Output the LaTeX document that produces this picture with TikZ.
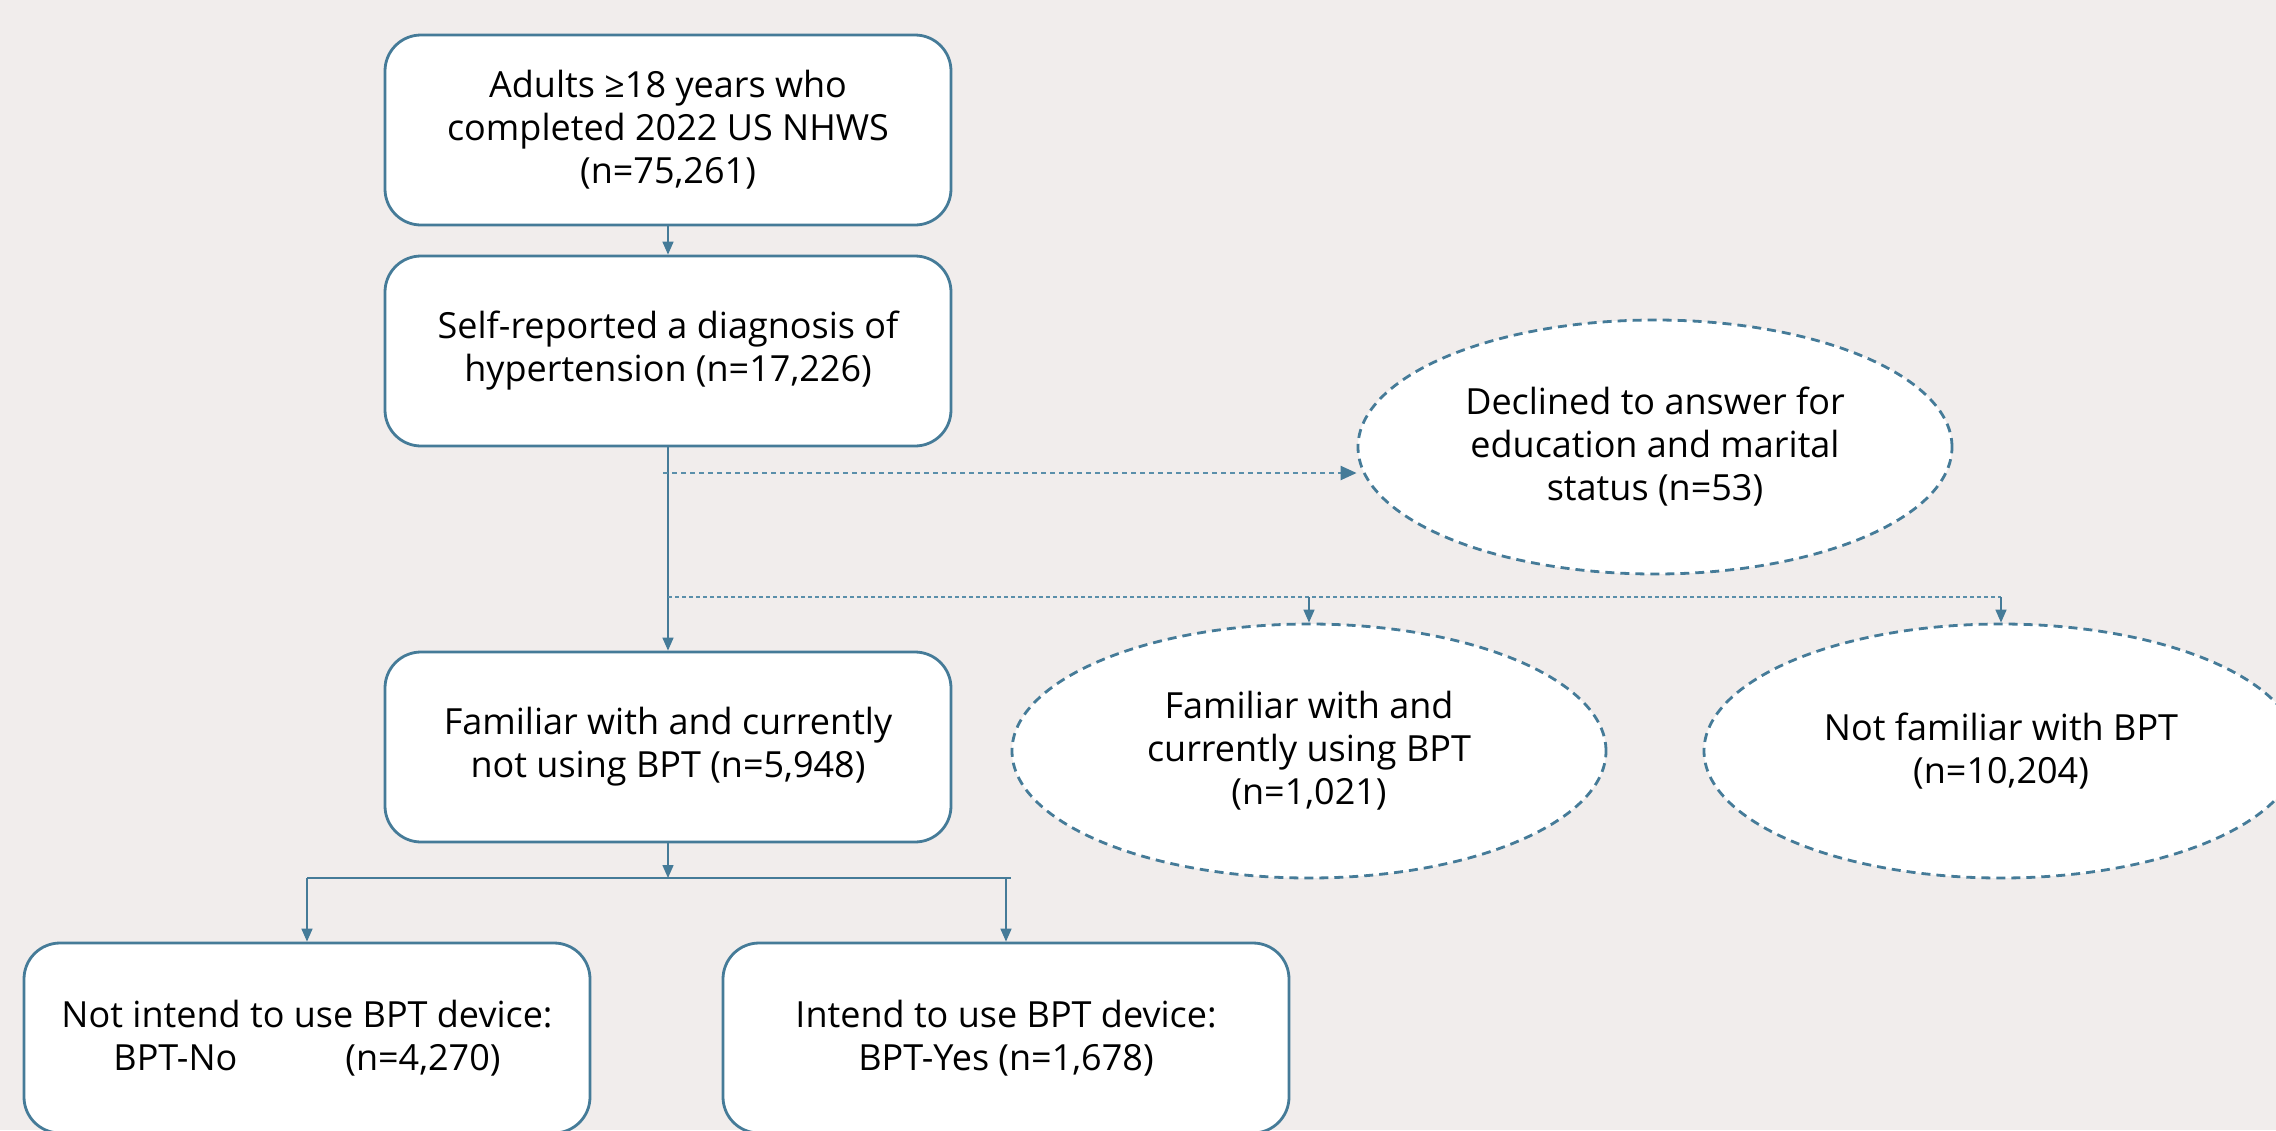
\documentclass[tikz,border=0pt]{standalone}
\usepackage{fontspec}
\setmainfont{Open Sans}
\usetikzlibrary{shapes.geometric,arrows.meta}
\definecolor{bgc}{HTML}{F1EDEC}
\definecolor{lnc}{HTML}{457B98}
\definecolor{lnl}{HTML}{5A8FAA}
\tikzset{
  box/.style={draw=lnc,line width=2.8pt,fill=white,rounded corners=36pt,
    minimum width=566pt,minimum height=190pt,align=center,inner sep=0pt,
    font=\fontsize{36}{43}\selectfont},
  oval/.style={ellipse,draw=lnc,line width=2.8pt,dash pattern=on 9pt off 6pt,fill=white,
    minimum width=594pt,minimum height=254pt,align=center,inner sep=0pt,
    font=\fontsize{36}{43}\selectfont},
  conn/.style={draw=lnc,line width=1.5pt},
  arr/.style={conn,-{Triangle[length=13pt,width=11pt]}},
  dconn/.style={draw=lnl,line width=1.5pt,dash pattern=on 4pt off 3pt},
  darr/.style={draw=lnl,line width=2.2pt,dash pattern=on 5pt off 4pt,
    -{Triangle[length=16pt,width=14pt,color=lnc,fill=lnc]}},
}
\begin{document}
\begin{tikzpicture}[x=1pt,y=-1pt]
\fill[bgc] (0,0) rectangle (2276,1130);
\useasboundingbox (0,0) rectangle (2276,1130);
\node[box] (b1) at (668,130) {Adults ≥18 years who\\completed 2022 US NHWS\\(n=75,261)};
\node[box] (b2) at (668,351) {Self-reported a diagnosis of\\hypertension (n=17,226)};
\node[box] (b3) at (668,747) {Familiar with and currently\\not using BPT (n=5,948)};
\node[box] (b4) at (307,1038) {Not intend to use BPT device:\\BPT-No\hspace{108pt}(n=4,270)};
\node[box] (b5) at (1006,1038) {Intend to use BPT device:\\BPT-Yes (n=1,678)};
\node[oval] (e1) at (1655,447) {Declined to answer for\\education and marital\\status (n=53)};
\node[oval] (e2) at (1309,751) {Familiar with and\\currently using BPT\\(n=1,021)};
\node[oval] (e3) at (2001,751) {Not familiar with BPT\\(n=10,204)};
\coordinate (d1) at (663,473);
\coordinate (d2s) at (668,597);
\coordinate (d2a) at (1309,597);
\coordinate (d2b) at (2001,597);
\coordinate (sp) at (668,878);
\coordinate (spl) at (307,878);
\coordinate (spr) at (1011,878);
\coordinate (spr2) at (1006,878);
\draw[arr] (b1.south) -- (b2.north);
\draw[arr] (b2.south) -- (b3.north);
\draw[darr] (d1) -- (d1 -| e1.west);
\draw[dconn] (d2s) -- (d2b);
\draw[arr] (d2a) -- (e2.north);
\draw[arr] (d2b) -- (e3.north);
\draw[arr] (b3.south) -- (sp);
\draw[conn] (spl) -- (spr);
\draw[arr] (spl) -- (b4.north);
\draw[arr] (spr2) -- (b5.north);
\end{tikzpicture}
\end{document}
